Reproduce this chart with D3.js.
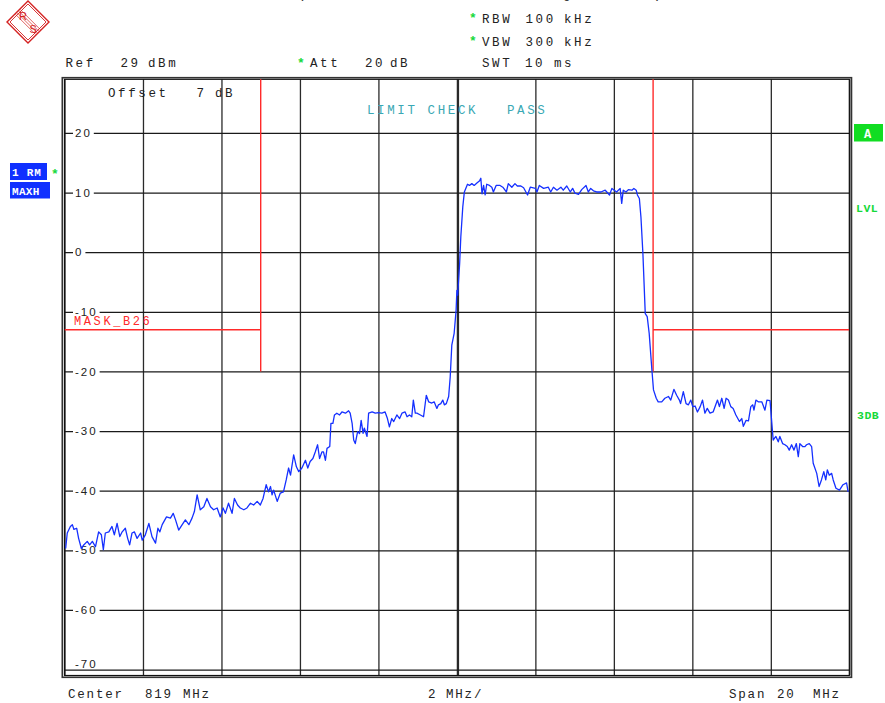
<!DOCTYPE html>
<html><head><meta charset="utf-8">
<script src="https://cdn.jsdelivr.net/npm/d3@7"></script>
<style>
html,body{margin:0;padding:0;background:#fff;}
svg{display:block;}
</style></head>
<body>
<svg id="chart" width="885" height="703"></svg>
<script>
// ---------- DATA ----------
const freqMHz = [809.03,809.07,809.15,809.20,809.24,809.31,809.36,809.43,809.49,809.58,809.64,809.71,809.79,809.87,809.94,809.99,810.04,810.13,810.21,810.27,810.34,810.41,810.47,810.55,810.61,810.66,810.72,810.78,810.85,810.94,810.98,811.06,811.15,811.23,811.32,811.38,811.43,811.49,811.60,811.70,811.77,811.83,811.91,812.00,812.08,812.17,812.25,812.31,812.38,812.46,812.55,812.63,812.72,812.80,812.89,812.97,813.04,813.10,813.18,813.27,813.33,813.41,813.48,813.57,813.65,813.74,813.82,813.91,813.99,814.06,814.14,814.20,814.25,814.29,814.33,814.42,814.50,814.58,814.65,814.71,814.76,814.84,814.91,814.97,815.05,815.14,815.20,815.26,815.33,815.39,815.45,815.50,815.56,815.60,815.65,815.69,815.76,815.79,815.84,815.88,815.94,816.01,816.07,816.16,816.24,816.28,816.33,816.37,816.41,816.47,816.52,816.56,816.61,816.64,816.71,816.75,816.84,816.92,817.00,817.09,817.17,817.23,817.28,817.34,817.39,817.47,817.54,817.60,817.68,817.73,817.79,817.85,817.89,817.94,817.98,818.07,818.15,818.22,818.28,818.36,818.42,818.49,818.53,818.59,818.64,818.68,818.73,818.79,818.83,818.87,818.93,818.98,819.00,819.02,819.07,819.10,819.15,819.19,819.27,819.32,819.38,819.44,819.51,819.58,819.61,819.64,819.68,819.72,819.76,819.83,819.89,819.93,820.00,820.10,820.17,820.26,820.31,820.40,820.48,820.54,820.63,820.70,820.80,820.87,821.00,821.04,821.10,821.21,821.33,821.39,821.46,821.55,821.65,821.71,821.80,821.89,821.95,822.01,822.10,822.18,822.29,822.35,822.41,822.48,822.56,822.67,822.78,822.89,822.95,823.01,823.07,823.16,823.20,823.24,823.31,823.37,823.46,823.51,823.57,823.60,823.65,823.69,823.74,823.80,823.85,823.90,823.97,824.01,824.08,824.13,824.22,824.30,824.39,824.45,824.53,824.60,824.67,824.70,824.77,824.84,824.90,824.96,825.01,825.07,825.13,825.20,825.26,825.32,825.38,825.45,825.53,825.64,825.69,825.75,825.81,825.86,825.92,825.98,826.04,826.11,826.20,826.26,826.30,826.37,826.43,826.49,826.54,826.57,826.62,826.68,826.77,826.85,826.90,826.98,827.06,827.13,827.19,827.23,827.30,827.36,827.42,827.47,827.53,827.59,827.65,827.70,827.74,827.81,827.87,827.91,827.98,828.04,828.08,828.17,828.23,828.29,828.35,828.40,828.44,828.49,828.55,828.59,828.66,828.75,828.84,828.93,828.97];
const levelDbm = [-49.7,-47.1,-46.0,-45.7,-46.5,-46.3,-48.0,-49.7,-49.1,-48.5,-49.1,-48.5,-49.4,-46.9,-47.4,-49.9,-47.1,-46.9,-46.0,-47.4,-45.5,-47.7,-46.9,-46.3,-48.0,-49.1,-47.1,-46.9,-48.0,-47.1,-48.3,-47.4,-45.5,-47.7,-48.8,-46.3,-46.9,-45.7,-44.4,-44.6,-43.8,-44.9,-46.6,-45.7,-44.9,-45.7,-44.6,-43.5,-40.7,-43.2,-42.7,-41.3,-42.7,-43.2,-42.9,-44.4,-42.9,-43.8,-42.1,-43.8,-41.3,-42.4,-42.9,-43.2,-42.9,-42.1,-42.4,-41.8,-42.4,-41.3,-39.0,-40.2,-39.3,-40.7,-39.9,-41.8,-40.4,-40.2,-38.2,-36.2,-37.4,-34.0,-36.0,-36.8,-36.2,-34.9,-36.2,-35.1,-34.6,-33.5,-32.3,-34.6,-33.5,-33.5,-34.9,-32.9,-32.6,-28.7,-28.7,-27.3,-27.0,-27.3,-26.8,-27.0,-26.6,-27.0,-28.7,-31.5,-32.1,-30.1,-30.4,-28.2,-30.4,-29.5,-30.9,-27.0,-26.8,-27.0,-26.9,-27.0,-26.8,-27.9,-29.3,-27.9,-28.4,-27.3,-27.9,-27.0,-26.8,-27.6,-27.3,-27.6,-24.8,-27.0,-27.0,-27.3,-27.6,-24.0,-25.1,-25.3,-25.1,-26.2,-25.6,-25.4,-24.8,-25.6,-25.4,-24.2,-20.9,-15.6,-13.6,-9.7,-6.4,-7.2,-1.9,2.6,7.6,10.1,11.4,11.2,11.5,11.2,11.6,12.0,12.4,9.8,11.2,9.6,11.4,11.2,10.9,10.1,11.2,11.2,10.9,10.1,11.5,10.9,11.5,11.1,11.1,10.8,9.6,10.9,10.7,10.1,11.2,10.7,10.9,10.1,10.9,10.4,10.9,10.4,11.1,10.1,10.7,9.9,9.7,10.5,11.2,10.1,10.7,10.3,10.1,10.1,10.4,9.6,10.7,10.4,10.1,10.7,8.2,10.4,10.1,10.5,10.4,10.7,10.4,9.6,9.0,5.9,-0.2,-10.3,-10.8,-13.6,-19.8,-23.1,-24.5,-25.1,-25.1,-24.5,-24.2,-24.8,-23.0,-24.0,-24.8,-25.4,-23.4,-25.4,-25.6,-24.8,-25.9,-25.8,-26.8,-25.9,-24.8,-27.0,-26.2,-27.0,-26.8,-24.8,-25.9,-24.5,-26.2,-24.5,-24.8,-25.9,-26.2,-27.3,-28.4,-27.9,-29.2,-28.2,-28.3,-25.9,-25.6,-26.5,-24.8,-25.1,-25.1,-26.5,-24.8,-24.9,-31.5,-30.9,-31.8,-30.9,-32.1,-32.3,-32.6,-33.2,-32.3,-33.2,-32.1,-34.3,-32.1,-32.6,-32.6,-32.3,-32.1,-32.6,-35.4,-37.1,-39.3,-38.2,-36.8,-38.2,-36.5,-37.4,-37.1,-38.2,-39.6,-39.9,-39.0,-38.7,-40.2];
const maskFreq  = [809, 814, 814, 814, 824, 824, 824, 829];
const maskLevel = [-13, -13, -20, 40, 40, -20, -13, -13];
const yTickValues = [20, 10, 0, -10, -20, -30, -40, -50, -60, -70];
const yTickLabels = ["20", "10", "0", "-10", "-20", "-30", "-40", "-50", "-60", "-70"];
const xGridValues = [809, 811, 813, 815, 817, 819, 821, 823, 825, 827, 829];
const refLevel = 29, bottomLevel = -71, startMHz = 809, stopMHz = 829;

// ---------- LAYOUT ----------
const svg = d3.select("#chart");
const X0 = 64.5, X1 = 849.3, Y0 = 79.3, Y1 = 675.5;
const x = d3.scaleLinear().domain([startMHz, stopMHz]).range([X0, X1]);
const y = d3.scaleLinear().domain([refLevel, bottomLevel]).range([Y0, Y1]);
const MONO = '"Liberation Mono","DejaVu Sans Mono",monospace';

svg.append("defs").append("clipPath").attr("id","plotclip")
  .append("rect").attr("x",X0).attr("y",Y0).attr("width",X1-X0).attr("height",Y1-Y0);

// grid: vertical
const gx = svg.append("g").attr("transform",`translate(0,${Y1})`)
  .call(d3.axisBottom(x).tickValues(xGridValues).tickSize(-(Y1-Y0)).tickFormat(""));
gx.select(".domain").remove();
gx.selectAll(".tick line").attr("stroke","#2a2a2a").attr("stroke-width",1.3);
svg.append("line").attr("x1",x(819)+1.6).attr("x2",x(819)+1.6).attr("y1",Y0).attr("y2",Y1)
  .attr("stroke","#2a2a2a").attr("stroke-width",1.2);

// grid: horizontal
const gy = svg.append("g").attr("transform",`translate(${X0},0)`)
  .call(d3.axisLeft(y).tickValues(yTickValues).tickSize(-(X1-X0)).tickFormat(""));
gy.select(".domain").remove();
gy.selectAll(".tick line").attr("stroke","#1a1a1a").attr("stroke-width",1.3);

// y labels with white background
yTickValues.forEach((v,i)=>{
  const lbl = yTickLabels[i];
  const isBottom = v === -70;
  const yy = y(v) + (isBottom ? -6 : 0);
  const t = svg.append("text").attr("x",75).attr("y",yy).attr("dy","0.36em")
    .attr("font-family","Arial, 'Liberation Sans', sans-serif").attr("font-size",11.5)
    .attr("letter-spacing",2).attr("fill","#222").text(lbl);
  const w = t.node().getComputedTextLength();
  svg.insert("rect", () => t.node()).attr("x",73).attr("y", isBottom ? yy-6 : y(v)-3)
    .attr("width", w+4).attr("height", isBottom ? 11 : 6).attr("fill","#fff");
});

// frame (double line)
svg.append("rect").attr("x",X0).attr("y",Y0).attr("width",X1-X0).attr("height",Y1-Y0)
  .attr("fill","none").attr("stroke","#111").attr("stroke-width",1.2);
svg.append("rect").attr("x",X0-2.2).attr("y",Y0-1.6).attr("width",X1-X0+4.4).attr("height",Y1-Y0+3.4)
  .attr("fill","none").attr("stroke","#333").attr("stroke-width",1.6);

// mask limit line
const mask = maskFreq.map((f,i)=>[f, maskLevel[i]]);
svg.append("path").datum(mask).attr("clip-path","url(#plotclip)")
  .attr("d", d3.line().x(d=>x(d[0])).y(d=>y(d[1])))
  .attr("fill","none").attr("stroke","#ff2a2a").attr("stroke-width",1.4);

// trace
const trace = freqMHz.map((f,i)=>[f, levelDbm[i]]);
svg.append("path").datum(trace).attr("clip-path","url(#plotclip)")
  .attr("d", d3.line().x(d=>x(d[0])).y(d=>y(d[1])))
  .attr("fill","none").attr("stroke","#1530ff").attr("stroke-width",1.3).attr("stroke-linejoin","round");

// texts
function mtext(str, px, py, color, opts={}) {
  return svg.append("text").attr("x",px).attr("y",py).attr("font-family",MONO)
    .attr("font-size",opts.size||12.5).attr("letter-spacing",opts.ls!==undefined?opts.ls:2.6)
    .attr("font-weight",opts.weight||"normal").attr("fill",color).text(str);
}
mtext("MASK_B26", 74, 324.5, "#ff2a2a", {size:12});
mtext("Offset", 108, 97, "#222");
mtext("7", 196.5, 97, "#222");
mtext("dB", 215, 97, "#222");
mtext("LIMIT CHECK", 367, 114, "#3aa8b4");
mtext("PASS", 507, 114, "#3aa8b4");

// header
const G = "#16d93a";
function star(px, py){ svg.append("text").attr("x",px).attr("y",py).attr("font-family",MONO)
  .attr("font-size",13).attr("font-weight","bold").attr("fill",G).text("*"); }
star(469, 22); star(469, 45); star(297, 67);
mtext("RBW", 482, 23, "#222"); mtext("100", 525.5, 23, "#222"); mtext("kHz", 564, 23, "#222");
mtext("VBW", 482, 45.5, "#222"); mtext("300", 525.5, 45.5, "#222"); mtext("kHz", 564, 45.5, "#222");
mtext("SWT", 482, 67, "#222"); mtext("10", 525, 67, "#222"); mtext("ms", 554, 67, "#222");
mtext("Att", 310, 67, "#222"); mtext("20", 365, 67, "#222"); mtext("dB", 390, 67, "#222");
mtext("Ref", 65.5, 67, "#222"); mtext("29", 120.5, 67, "#222"); mtext("dBm", 148, 67, "#222");

// title line, cut off by the top edge (only descenders show)
[["(",298],["/",404],["_",421],["_",519],["g",563],["_",595],[")",654],["_",712]]
  .forEach(([s,px]) => mtext(s, px, -2.5, "#222", {ls:0}));

// bottom
mtext("Center", 68, 698, "#222", {ls:1.8}); mtext("819", 145, 698, "#222", {ls:1.8}); mtext("MHz", 183, 698, "#222", {ls:1.8});
mtext("2", 428, 698, "#222", {ls:1.8}); mtext("MHz/", 446, 698, "#222", {ls:1.8});
mtext("Span", 729, 698, "#222", {ls:1.8}); mtext("20", 777, 698, "#222", {ls:1.8}); mtext("MHz", 813, 698, "#222", {ls:1.8});

// left trace labels
svg.append("rect").attr("x",10).attr("y",163).attr("width",37).attr("height",17).attr("fill","#1030ff");
svg.append("rect").attr("x",10).attr("y",182).attr("width",40).attr("height",16.5).attr("fill","#1030ff");
mtext("1 RM", 12, 176, "#fff", {size:11, ls:0.8, weight:"bold"});
mtext("MAXH", 12, 194.5, "#fff", {size:11, ls:0.3, weight:"bold"});
star(51, 178);

// right side
svg.append("rect").attr("x",854).attr("y",124).attr("width",29).attr("height",17.5).attr("fill","#11dd22");
mtext("A", 864, 137.5, "#fff", {size:12, ls:0, weight:"bold"});
mtext("LVL", 856, 212, G, {size:11.5, ls:0.5, weight:"bold"});
mtext("3DB", 857, 419, G, {size:11.5, ls:0.5, weight:"bold"});

// R&S logo
const logo = svg.append("g").attr("transform","translate(28,22)");
const D = 21;
logo.append("path").attr("d",`M0,${-D} L${D},0 L0,${D} L${-D},0 Z`).attr("fill","none").attr("stroke","#d42020").attr("stroke-width",1.4);
logo.append("path").attr("d",`M0,${-D+3} L${D-3},0 L0,${D-3} L${-D+3},0 Z`).attr("fill","none").attr("stroke","#d42020").attr("stroke-width",0.9);
[-2.4,-0.8,0.8,2.4].forEach(o=>{
  logo.append("line").attr("x1",-10+o).attr("y1",-10-o).attr("x2",10+o).attr("y2",10-o)
    .attr("stroke","#d42020").attr("stroke-width",0.7);
});
logo.append("text").attr("x",-9).attr("y",-2).attr("font-family","Liberation Sans, Arial").attr("font-size",11).attr("fill","#d42020").text("R");
logo.append("text").attr("x",1.5).attr("y",11).attr("font-family","Liberation Sans, Arial").attr("font-size",11).attr("fill","#d42020").text("S");
</script>
</body></html>
